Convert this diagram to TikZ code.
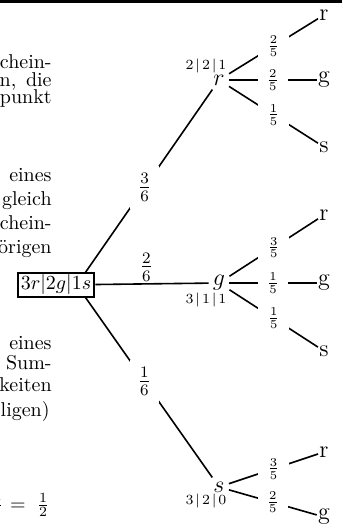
\documentclass[tikz,border=0pt]{standalone}
\usetikzlibrary{calc}
\begin{document}
\begin{tikzpicture}[x=0.5pt,y=-0.5pt,
  edge/.style={line width=0.8pt},
  lvl/.style={font=\large, inner sep=2pt},
  leaf/.style={font=\large, inner sep=0.5pt},
  cnt/.style={font=\scriptsize, inner sep=0pt},
  labA/.style={fill=white, font=\large, inner sep=3.8pt},
  labB/.style={fill=white, font=\footnotesize, inner sep=4.6pt},
  txt/.style={anchor=base east, inner sep=0pt}
]
\useasboundingbox (0,0) rectangle (342,528);
\clip (0,0) rectangle (342,528);
\fill (0,0) rectangle (342,2.7);

% text fragments on the left
\node[txt] (t1) at (52,69) {chein-};
\node[txt] (t2) at (52,86.5) {n,\hspace{4.85pt}die};
\node[txt] (t3) at (52,104) {punkt};
\node[txt] (t4) at (52,182) {eines};
\node[txt] (t5) at (52,206) {gleich};
\node[txt] (t6) at (52,230) {chein-};
\node[txt] (t7) at (52,254) {örigen};
\node[txt] (t8) at (52,349) {eines};
\node[txt] (t9) at (52,369) {Sum-};
\node[txt] (t10) at (52,391) {keiten};
\node[txt] (t11) at (50,416) {ligen)};
\node[txt] (e1) at (4,510) {$\frac{3}{5}$};
\node[txt] (e2) at (26,510) {$=$};
\node[txt] (e3) at (50,510) {$\frac{1}{2}$};

% tree
\coordinate (rootc) at (76.7,285);
\node[lvl] (n1r) at (219,80) {$r$};
\node[lvl] (n1g) at (219,283) {$g$};
\node[lvl] (n1s) at (219,487) {$s$};

\draw[edge] (rootc) -- node[labA] {$\frac{3}{6}$} (n1r);
\draw[edge] (rootc) -- node[labA] {$\frac{1}{6}$} (n1s);
\node[draw, line width=1.2pt, fill=white, inner xsep=1.5pt, inner ysep=1pt] (root) at (56,285) {$3r|2g|1s$};
\draw[edge] (root) -- node[pos=0.45, anchor=south, font=\large, inner sep=0pt, yshift=1pt] {$\frac{2}{6}$} (n1g);

\node[cnt] (c1) at (206,66) {$2\mkern2mu|\mkern2mu2\mkern2mu|\mkern2mu1$};
\node[cnt] (c2) at (206,300) {$3\mkern2mu|\mkern2mu1\mkern2mu|\mkern2mu1$};
\node[cnt] (c3) at (206,501) {$3\mkern2mu|\mkern2mu2\mkern2mu|\mkern2mu0$};

\node[leaf] (l1r) at (324,15) {r};
\node[leaf] (l1g) at (324,80) {g};
\node[leaf] (l1s) at (324,147) {s};
\node[leaf] (l2r) at (324,215) {r};
\node[leaf] (l2g) at (324,283) {g};
\node[leaf] (l2s) at (324,351) {s};
\node[leaf] (l3r) at (324,452) {r};
\node[leaf] (l3g) at (324,517) {g};

\draw[edge] (n1r) -- node[labB] {$\frac{2}{5}$} (l1r);
\draw[edge] (n1r) -- node[labB] {$\frac{2}{5}$} (l1g);
\draw[edge] (n1r) -- node[labB] {$\frac{1}{5}$} (l1s);
\draw[edge] (n1g) -- node[labB] {$\frac{3}{5}$} (l2r);
\draw[edge] (n1g) -- node[labB] {$\frac{1}{5}$} (l2g);
\draw[edge] (n1g) -- node[labB] {$\frac{1}{5}$} (l2s);
\draw[edge] (n1s) -- node[labB] {$\frac{3}{5}$} (l3r);
\draw[edge] (n1s) -- node[labB] {$\frac{2}{5}$} (l3g);
\end{tikzpicture}
\end{document}
